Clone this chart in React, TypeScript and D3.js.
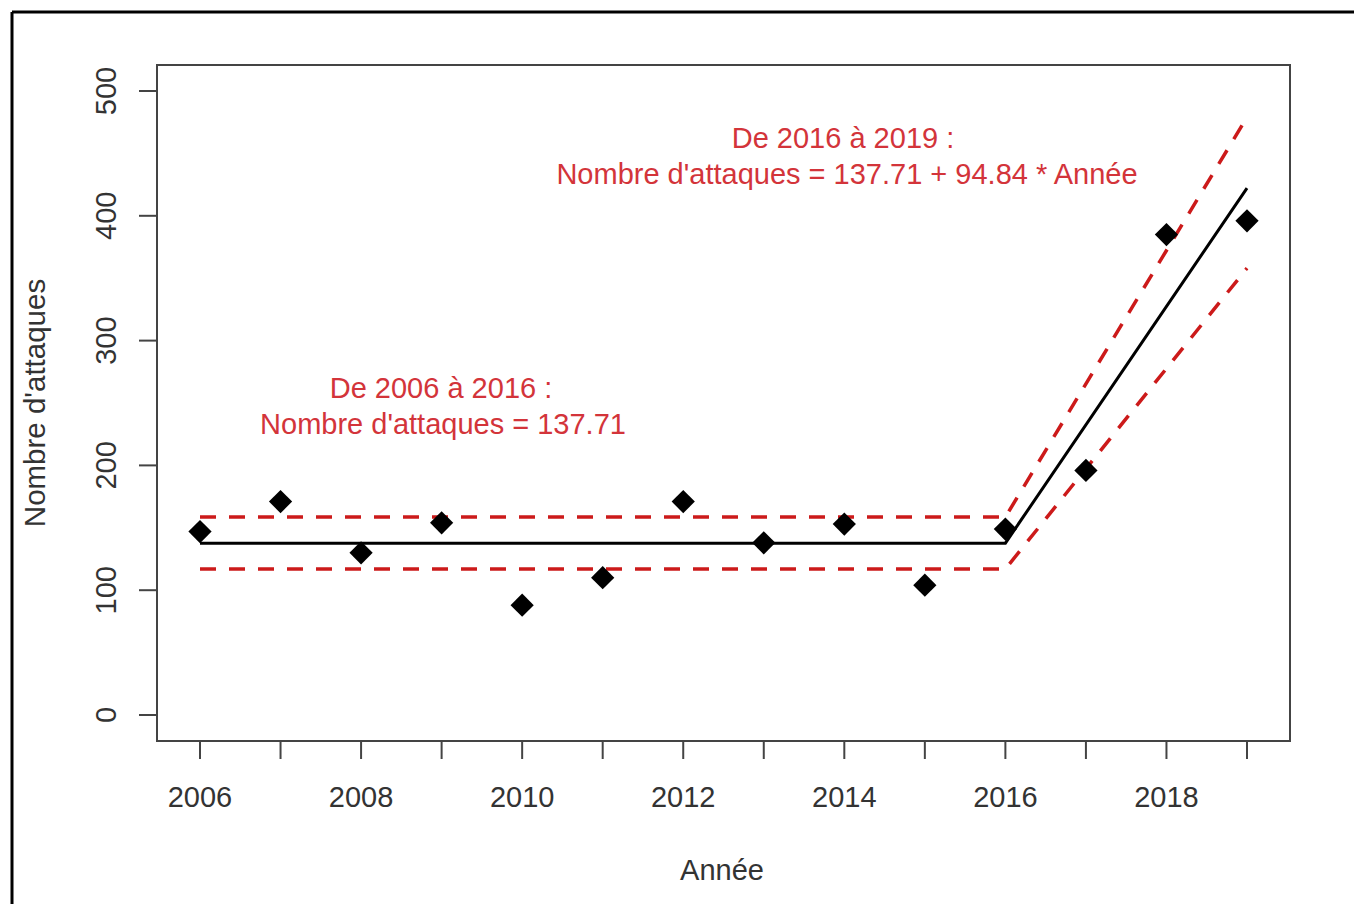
import React from "react";
import * as d3 from "d3";

const years = [2006, 2007, 2008, 2009, 2010, 2011, 2012, 2013, 2014, 2015, 2016, 2017, 2018, 2019];
const attacks = [147, 171, 130, 154, 88, 110, 171, 138, 153, 104, 149, 196, 385, 396];
const fitYears = [2006, 2016, 2019];
const fitValues = [137.71, 137.71, 422.2];
const upperValues = [158.6, 158.6, 479];
const lowerValues = [117, 117, 358];
const xTickValues = years;
const xLabelValues = [2006, 2008, 2010, 2012, 2014, 2016, 2018];
const yTickValues = [0, 100, 200, 300, 400, 500];

const W = 1354;
const H = 904;
const box = { left: 157, top: 65, right: 1290, bottom: 741 };

export default function App() {
  const x = d3.scaleLinear().domain([2006, 2019]).range([200, 1247]);
  const y = d3.scaleLinear().domain([0, 500]).range([715, 91]);
  const line = d3
    .line<[number, number]>()
    .x((d) => x(d[0]))
    .y((d) => y(d[1]));
  const fit = line(fitYears.map((yr, i) => [yr, fitValues[i]]));
  const up = line(fitYears.map((yr, i) => [yr, upperValues[i]]));
  const lo = line(fitYears.map((yr, i) => [yr, lowerValues[i]]));
  const diamond = d3.symbol().type(d3.symbolSquare).size(270)();
  const font = "Liberation Sans, Arial, sans-serif";
  const txt = "#333";
  const red = "#d3343a";
  const dashRed = "#cc1a1a";
  const fs = 29;

  return (
    <svg
      width={W}
      height={H}
      style={{ position: "absolute", left: 0, top: 0, background: "#fff" }}
      fontFamily={font}
    >
      <rect x={0} y={0} width={W} height={H} fill="#fff" />
      <line x1={12} y1={12} x2={W} y2={12} stroke="#000" strokeWidth={3} />
      <line x1={12} y1={12} x2={12} y2={H} stroke="#000" strokeWidth={3} />
      <rect
        x={box.left}
        y={box.top}
        width={box.right - box.left}
        height={box.bottom - box.top}
        fill="none"
        stroke="#444"
        strokeWidth={2}
      />
      {xTickValues.map((t) => (
        <line key={"xt" + t} x1={x(t)} x2={x(t)} y1={box.bottom} y2={box.bottom + 18} stroke="#444" strokeWidth={2} />
      ))}
      {xLabelValues.map((t) => (
        <text key={"xl" + t} x={x(t)} y={807} textAnchor="middle" fontSize={fs} fill={txt}>
          {t}
        </text>
      ))}
      {yTickValues.map((t) => (
        <line key={"yt" + t} x1={box.left - 18} x2={box.left} y1={y(t)} y2={y(t)} stroke="#444" strokeWidth={2} />
      ))}
      {yTickValues.map((t) => (
        <text
          key={"yl" + t}
          transform={`translate(116,${y(t)}) rotate(-90)`}
          textAnchor="middle"
          fontSize={fs}
          fill={txt}
        >
          {t}
        </text>
      ))}
      <text x={722} y={880} textAnchor="middle" fontSize={fs} fill={txt}>
        Année
      </text>
      <text transform="translate(45,403) rotate(-90)" textAnchor="middle" fontSize={29.5} fill={txt}>
        Nombre d'attaques
      </text>
      <path d={up ?? ""} fill="none" stroke={dashRed} strokeWidth={3.5} strokeDasharray="16 13" />
      <path d={lo ?? ""} fill="none" stroke={dashRed} strokeWidth={3.5} strokeDasharray="16 13" />
      <path d={fit ?? ""} fill="none" stroke="#000" strokeWidth={3} />
      {years.map((yr, i) => (
        <path
          key={"p" + yr}
          d={diamond ?? ""}
          transform={`translate(${x(yr)},${y(attacks[i])}) rotate(45)`}
          fill="#000"
        />
      ))}
      <text x={843} y={148} textAnchor="middle" fontSize={fs} fill={red}>
        De 2016 à 2019 :
      </text>
      <text x={847} y={184} textAnchor="middle" fontSize={fs} fill={red}>
        Nombre d'attaques = 137.71 + 94.84 * Année
      </text>
      <text x={441} y={398} textAnchor="middle" fontSize={fs} fill={red}>
        De 2006 à 2016 :
      </text>
      <text x={443} y={434} textAnchor="middle" fontSize={fs} fill={red}>
        Nombre d'attaques = 137.71
      </text>
    </svg>
  );
}
